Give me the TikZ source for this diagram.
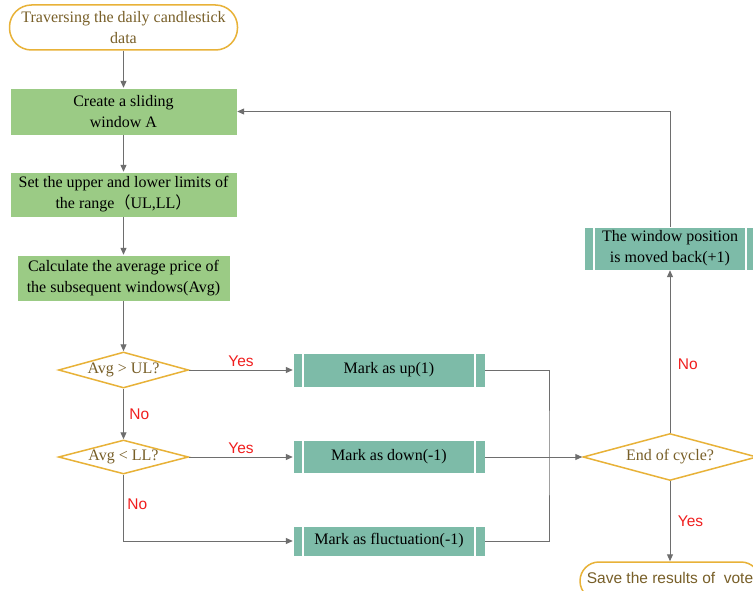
\documentclass[tikz,border=0pt]{standalone}
\usepackage{fontspec}
\setmainfont{Liberation Serif}
\newfontfamily\labfont{Liberation Sans}
\newfontfamily\cjk{Noto Sans CJK SC}
\usetikzlibrary{shapes.geometric,arrows.meta}
\definecolor{gbox}{RGB}{155,203,133}
\definecolor{tbox}{RGB}{125,187,168}
\definecolor{gold}{RGB}{232,178,56}
\definecolor{brownt}{RGB}{120,95,40}
\definecolor{lgray}{RGB}{110,110,110}
\definecolor{redl}{RGB}{240,30,30}
\begin{document}
\begin{tikzpicture}[x=1pt,y=-1pt,
 font=\fontsize{16}{21}\selectfont,
 greenbox/.style={rectangle, fill=gbox, draw=white, inner sep=0pt, align=center, text=black},
 procbox/.style={rectangle, fill=tbox, draw=white, inner sep=0pt, align=center, text=black,
   path picture={\draw[white,line width=1.2pt]
     ([xshift=10pt]path picture bounding box.north west) -- ([xshift=10pt]path picture bounding box.south west)
     ([xshift=-10pt]path picture bounding box.north east) -- ([xshift=-10pt]path picture bounding box.south east);}},
 term/.style={rectangle, draw=gold, line width=1.5pt, fill=white, text=brownt, align=center, inner sep=0pt},
 decision/.style={diamond, draw=gold, line width=1.5pt, fill=white, inner sep=0pt, label={[text=brownt]center:#1}},
 conn/.style={draw=lgray, line width=1pt},
 arr/.style={conn, -{Triangle[length=7pt,width=6pt]}},
 lab/.style={text=redl, font=\labfont\fontsize{15.5}{18}\selectfont}
]
\clip (0,0) rectangle (753,591);
\fill[white] (0,0) rectangle (753,591);

\node[term, rounded corners=22pt, minimum width=228pt, minimum height=45pt] (start) at (123.5,27.5)
  {Traversing the daily candlestick\\data};
\node[greenbox, minimum width=227pt, minimum height=47pt] (A) at (123.5,111.5) {Create a sliding\\window A};
\node[greenbox, minimum width=227pt, minimum height=45pt] (range) at (123.5,194.5)
  {Set the upper and lower limits of\\the range{\cjk （}UL,LL{\cjk ）}};
\node[greenbox, minimum width=213pt, minimum height=46pt] (avg) at (123.5,278)
  {Calculate the average price of\\the subsequent windows(Avg)};
\node[decision={Avg > UL?}, minimum width=130pt, minimum height=36pt] (d1) at (123.5,370) {};
\node[decision={Avg < LL?}, minimum width=130pt, minimum height=34pt] (d2) at (123.5,457) {};
\node[procbox, minimum width=192pt, minimum height=34pt] (up) at (389,370) {Mark as up(1)};
\node[procbox, minimum width=192pt, minimum height=33pt] (down) at (389,457) {Mark as down(-1)};
\node[procbox, minimum width=192pt, minimum height=30pt] (fluc) at (389,541) {Mark as fluctuation(-1)};
\node[decision={End of cycle?}, minimum width=174pt, minimum height=47pt] (d3) at (670,457) {};
\node[procbox, minimum width=172pt, minimum height=43pt] (back) at (670,248.5)
  {The window position\\is moved back(+1)};
\node[term, rounded corners=19pt, minimum width=180pt, minimum height=38pt, font=\labfont\fontsize{15.5}{18}\selectfont,
  text depth=0pt] (save) at (670,581) {\raisebox{7pt}{Save the results of\ \ vote}};

\coordinate (bus) at (549,450);

\draw[arr] (start) -- (A);
\draw[arr] (A) -- (range);
\draw[arr] (range) -- (avg);
\draw[arr] (avg) -- (d1);
\draw[arr] (d1) -- node[lab, above] {Yes} (up);
\draw[arr] (d1) -- node[lab, right, xshift=2pt] {No} (d2);
\draw[arr] (d2) -- node[lab, above] {Yes} (down);
\draw[arr] (d2.south) |- node[lab, right, pos=0.22] {No} (fluc.west);
\draw[conn] (up.east) -| (bus) |- (fluc.east);
\draw[arr] (down) -- (d3);
\draw[arr] (d3) -- node[lab, right, pos=0.42, xshift=4pt] {No} (back);
\draw[arr] (back.north) |- (A.east);
\draw[arr] (d3) -- node[lab, right, xshift=4pt] {Yes} (save);
\end{tikzpicture}
\end{document}
